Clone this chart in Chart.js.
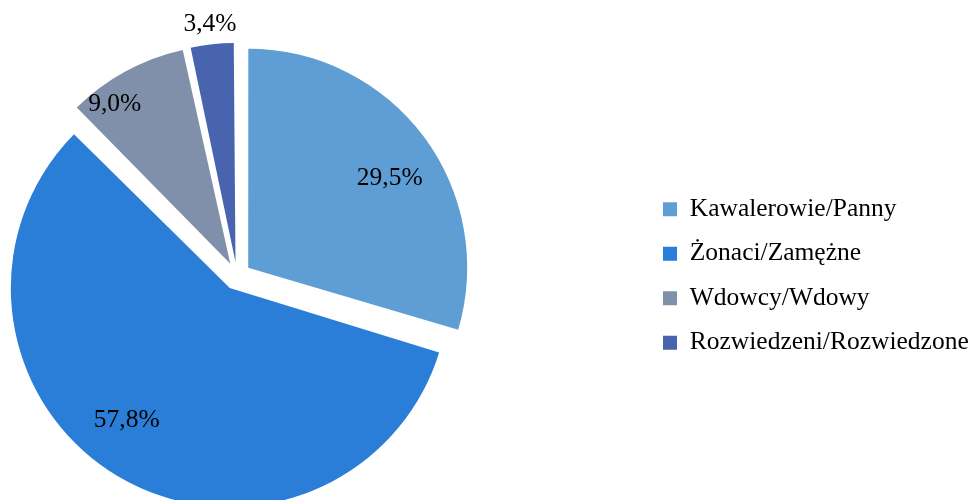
<!DOCTYPE html>
<html lang="pl">
<head>
  <meta charset="UTF-8" />
  <title>Stan cywilny</title>
  <script src="https://cdn.jsdelivr.net/npm/chart.js@4.4.1/dist/chart.umd.min.js"></script>
  <style>
    html, body { margin: 0; padding: 0; background: #ffffff; overflow: hidden; }
    /* the canvas is wider than the window and shifted left, so the pie sits where it does in the original */
    .wrap { position: relative; width: 975px; height: 500px; overflow: hidden; }
    .wrap canvas { position: absolute; left: -170px; top: 0; }
  </style>
</head>
<body>
  <div class="wrap">
    <canvas id="pieChart" width="1145" height="500"></canvas>
  </div>

  <script>
    // data
    const categories = ["Kawalerowie/Panny", "Żonaci/Zamężne", "Wdowcy/Wdowy", "Rozwiedzeni/Rozwiedzone"];
    const shares = [29.5, 57.8, 9.0, 3.4];
    const sliceColors = ["#5f9ed4", "#2a7ed7", "#8090aa", "#4864ae"];

    const FONT = "'Liberation Serif', 'Times New Roman', serif";
    const EXPLODE = 14;   // px each slice is pushed out
    const RADIUS = 219;

    const total = shares.reduce((a, b) => a + b, 0);

    // Chart.js grows an exploded arc's radius by (offset/4)*fix; take that back so all slices keep RADIUS
    const keepRadius = {
      id: "keepRadius",
      afterDatasetsUpdate(chart) {
        chart.getDatasetMeta(0).data.forEach(arc => {
          const fix = 1 - Math.sin(Math.min(Math.PI, arc.circumference));
          arc.outerRadius = RADIUS - EXPLODE * fix;
        });
      }
    };

    // percentage labels; inside labels lean a little toward the horizontal, like the original
    const pctLabels = {
      id: "pctLabels",
      afterDatasetsDraw(chart) {
        const ctx = chart.ctx;
        const meta = chart.getDatasetMeta(0);
        ctx.save();
        ctx.font = "25.5px " + FONT;
        ctx.fillStyle = "#000";
        ctx.textAlign = "center";
        ctx.textBaseline = "middle";
        meta.data.forEach((arc, i) => {
          const p = shares[i] / total;
          const mid = (arc.startAngle + arc.endAngle) / 2;
          const cx = arc.x + Math.cos(mid) * EXPLODE;
          const cy = arc.y + Math.sin(mid) * EXPLODE;
          let a = Math.atan2(Math.sin(mid), Math.cos(mid));
          let r;
          if (p < 0.05) {
            r = RADIUS + 20;
          } else {
            const horiz = Math.abs(a) < Math.PI / 2 ? 0 : (a < 0 ? -Math.PI : Math.PI);
            a += (horiz - a) * 0.12;
            r = p < 0.15 ? RADIUS * 0.9 : RADIUS * 0.765;
          }
          const x = cx + Math.cos(a) * r;
          const y = cy + Math.sin(a) * r;
          ctx.fillText(shares[i].toFixed(1).replace(".", ",") + "%", x, y);
        });
        ctx.restore();
      }
    };

    new Chart(document.getElementById("pieChart"), {
      type: "pie",
      data: {
        labels: categories,
        datasets: [{
          data: shares,
          backgroundColor: sliceColors,
          borderWidth: 0,
          offset: EXPLODE * 4,
          radius: RADIUS
        }]
      },
      options: {
        responsive: false,
        animation: false,
        layout: { padding: { left: 0, top: 52, right: 0, bottom: 0 } },
        plugins: {
          tooltip: { enabled: false },
          legend: {
            position: "right",
            maxWidth: 331,
            labels: {
              boxWidth: 14,
              boxHeight: 14,
              padding: 19,
              color: "#000",
              font: { family: FONT, size: 25.5 }
            }
          }
        }
      },
      plugins: [keepRadius, pctLabels]
    });
  </script>
</body>
</html>
